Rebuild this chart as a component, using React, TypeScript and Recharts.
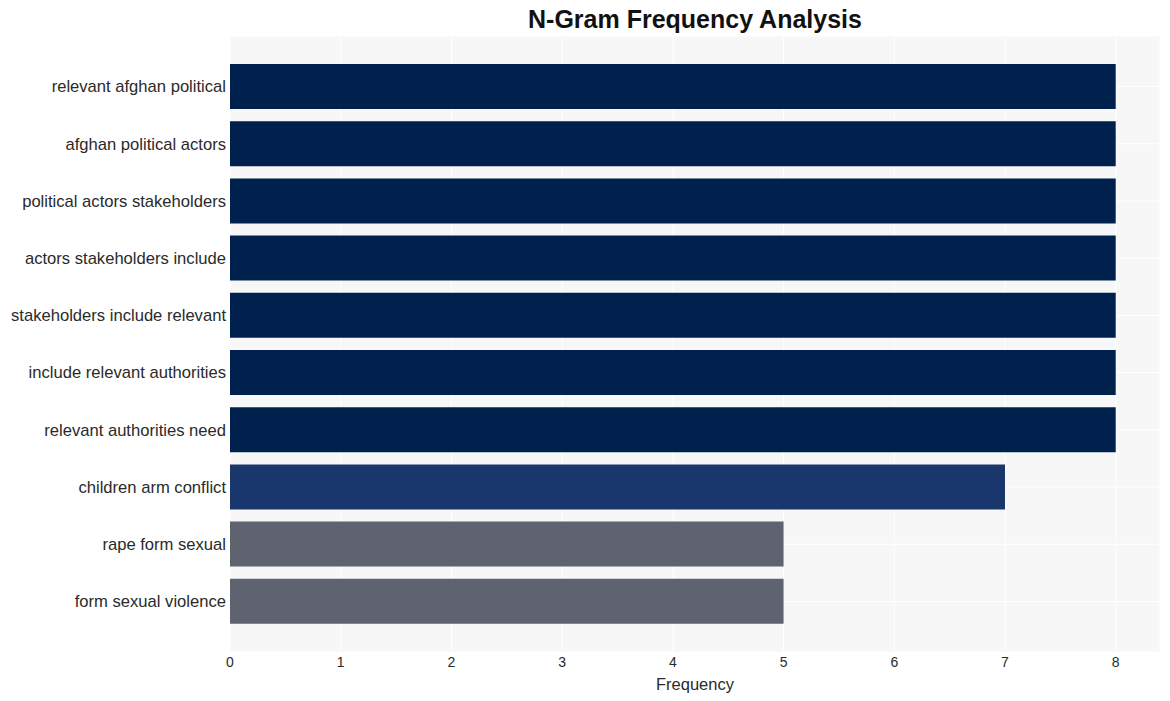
import { BarChart, Bar, XAxis, YAxis, CartesianGrid, Cell, Label } from 'recharts';

const ngrams = [
  'relevant afghan political',
  'afghan political actors',
  'political actors stakeholders',
  'actors stakeholders include',
  'stakeholders include relevant',
  'include relevant authorities',
  'relevant authorities need',
  'children arm conflict',
  'rape form sexual',
  'form sexual violence',
];
const frequencies = [8, 8, 8, 8, 8, 8, 8, 7, 5, 5];
const barColors = [
  '#00214d', '#00214d', '#00214d', '#00214d', '#00214d', '#00214d', '#00214d',
  '#1a376d', '#5f636f', '#5f636f',
];
const xTicks = [0, 1, 2, 3, 4, 5, 6, 7, 8];

const data = ngrams.map((name, i) => ({ name, value: frequencies[i] }));

export default function App() {
  return (
    <div style={{ position: 'absolute', left: 0, top: 0, width: 1170, height: 701, background: '#fff', fontFamily: 'Arial, "Liberation Sans", sans-serif' }}>
      <div
        style={{
          position: 'absolute',
          left: 230,
          width: 930,
          top: 5,
          textAlign: 'center',
          fontSize: 25,
          fontWeight: 'bold',
          color: '#111',
        }}
      >
        N-Gram Frequency Analysis
      </div>
      <BarChart
        width={1170}
        height={701}
        data={data}
        layout="vertical"
        margin={{ top: 36, right: 10, bottom: 0, left: 0 }}
        barSize={45}
      >
        <CartesianGrid fill="#f7f7f7" stroke="#ffffff" strokeWidth={1} />
        <XAxis
          type="number"
          domain={[0, 8.4]}
          ticks={xTicks}
          allowDataOverflow
          height={49}
          axisLine={false}
          tickLine={false}
          tickSize={3}
          tickMargin={2}
          tick={{ fill: '#2a2a2a', fontSize: 14 }}
        >
          <Label value="Frequency" position="insideBottom" offset={11} style={{ fill: '#2a2a2a', fontSize: 16.5 }} />
        </XAxis>
        <YAxis
          type="category"
          dataKey="name"
          width={230}
          padding={{ top: 22, bottom: 22 }}
          axisLine={false}
          tickLine={false}
          tickSize={2}
          tickMargin={2}
          interval={0}
          tick={{ fill: '#2a2a2a', fontSize: 16.6 }}
        />
        <Bar dataKey="value" isAnimationActive={false}>
          {data.map((d, i) => (
            <Cell key={d.name} fill={barColors[i]} />
          ))}
        </Bar>
      </BarChart>
    </div>
  );
}
